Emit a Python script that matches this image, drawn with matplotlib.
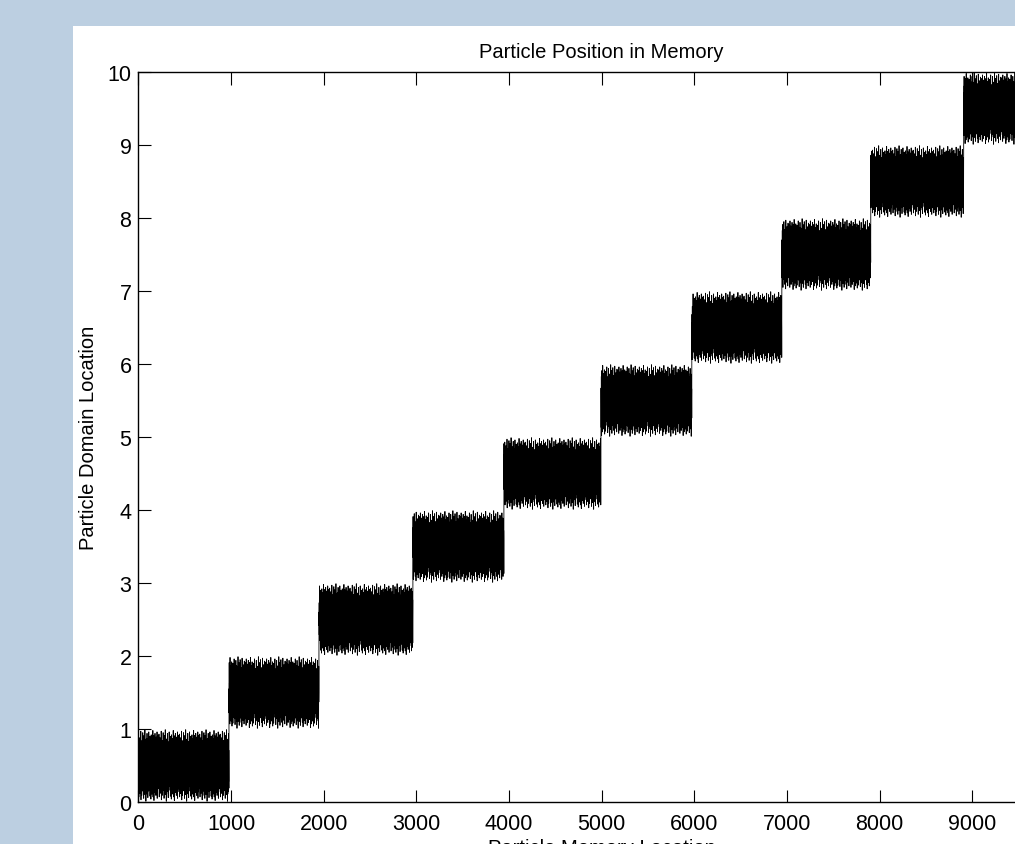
import numpy as np
import matplotlib.pyplot as plt
from matplotlib.patches import Rectangle

plt.rcParams['font.family'] = ['Liberation Sans', 'DejaVu Sans']

# memory index where each domain's particles begin
block_start = [0, 977, 1948, 2962, 3944, 4991, 5972, 6943, 7903, 8906]
n_particles = 10000
domains = [0, 1, 2, 3, 4, 5, 6, 7, 8, 9]

# fractional position of a particle inside its domain cell
jitter = [0.45, 0.93, 0.21, 0.66, 0.07, 0.58, 0.34, 0.81, 0.12, 0.49, 0.72,
          0.29, 0.63, 0.88, 0.40, 0.12, 0.55, 0.77, 0.18, 0.69, 0.36, 0.51,
          0.82, 0.14, 0.47, 0.97, 0.26, 0.03, 0.61, 0.38, 0.74, 0.19, 0.57,
          0.33, 0.71, 0.09, 0.52, 0.84, 0.23, 0.46, 0.15, 0.67, 0.39, 0.78,
          0.60, 0.27, 0.95, 0.42, 0.16, 0.73, 0.54, 0.88, 0.31, 0.65, 0.20,
          0.48, 0.05, 0.76, 0.35, 0.91, 0.13, 0.62, 0.24, 0.83, 0.41, 0.57,
          0.18, 0.70, 0.44, 0.99, 0.10, 0.59, 0.32, 0.85, 0.26, 0.66, 0.50,
          0.37, 0.86, 0.22, 0.01, 0.64, 0.45, 0.75, 0.11, 0.53, 0.30, 0.79,
          0.62, 0.14, 0.87, 0.39, 0.94, 0.28, 0.71, 0.47, 0.19, 0.83, 0.56,
          0.25, 0.68, 0.06, 0.51, 0.79, 0.33, 0.15, 0.60, 0.42, 0.73, 0.29,
          0.54, 0.96, 0.38, 0.72, 0.21, 0.85, 0.47, 0.63, 0.30, 0.90, 0.44,
          0.16, 0.61, 0.90, 0.08, 0.49, 0.77, 0.34, 0.58, 0.13, 0.82, 0.40,
          0.70, 0.27, 0.04, 0.83, 0.52, 0.92, 0.19, 0.66, 0.36, 0.11, 0.59,
          0.43, 0.80, 0.24, 0.65, 0.11, 0.87, 0.35, 0.56, 0.18, 0.74, 0.48,
          0.31, 0.98, 0.57, 0.07, 0.69, 0.42, 0.84, 0.20, 0.63, 0.37, 0.91,
          0.22, 0.55, 0.02, 0.76, 0.38, 0.83, 0.13, 0.47, 0.67, 0.28, 0.60,
          0.81, 0.36, 0.94, 0.13, 0.58, 0.72, 0.25, 0.88, 0.45, 0.19, 0.64,
          0.50, 0.09, 0.68, 0.89, 0.32, 0.77, 0.16, 0.53, 0.84, 0.27, 0.41,
          0.73, 0.21, 0.96, 0.46, 0.05, 0.62, 0.35, 0.86, 0.14, 0.57, 0.80,
          0.39, 0.65, 0.18, 0.91, 0.52, 0.28, 0.76, 0.44, 0.85, 0.33, 0.60]

xticks = [0, 1000, 2000, 3000, 4000, 5000, 6000, 7000, 8000, 9000]
yticks = [0, 1, 2, 3, 4, 5, 6, 7, 8, 9, 10]

bounds = block_start + [n_particles]
frac = np.array(jitter)
pos = []
for k, d in enumerate(domains):
    n = bounds[k + 1] - bounds[k]
    seq = frac if k % 2 == 0 else frac[::-1]
    idx = (np.arange(n) + 53 * k) % len(seq)
    pos.append(d + seq[idx])
pos = np.concatenate(pos)
mem = np.arange(1, n_particles + 1)

W, H = 1015, 845
fig = plt.figure(figsize=(W / 100, H / 100), dpi=100)
fig.patch.set_facecolor('#bccfe1')
# white figure panel, offset from the window corner
fig.patches.append(Rectangle((73 / W, 0), 1 - 73 / W, 1 - 27 / H,
                             transform=fig.transFigure, facecolor='white',
                             edgecolor='none', zorder=-10))

ax = fig.add_axes([138.4 / W, 42 / H, (1065 - 138.4) / W, 730 / H])
ax.plot(mem, pos, color='black', lw=0.6)

ax.set_xlim(0, 10000)
ax.set_ylim(0, 10)
ax.set_xticks(xticks)
ax.set_yticks(yticks)
ax.tick_params(direction='in', length=9, width=0.8, top=True, right=True,
               labelsize=15.5, pad=5)
ax.tick_params(axis='x', pad=8)
for s in ax.spines.values():
    s.set_linewidth(1.0)

ax.set_title('Particle Position in Memory', fontsize=14.5, pad=11)
ax.set_xlabel('Particle Memory Location', fontsize=14.5, labelpad=3)
ax.set_ylabel('Particle Domain Location', fontsize=14.5, labelpad=7)

fig.savefig('out.png', dpi=100, facecolor=fig.get_facecolor())
